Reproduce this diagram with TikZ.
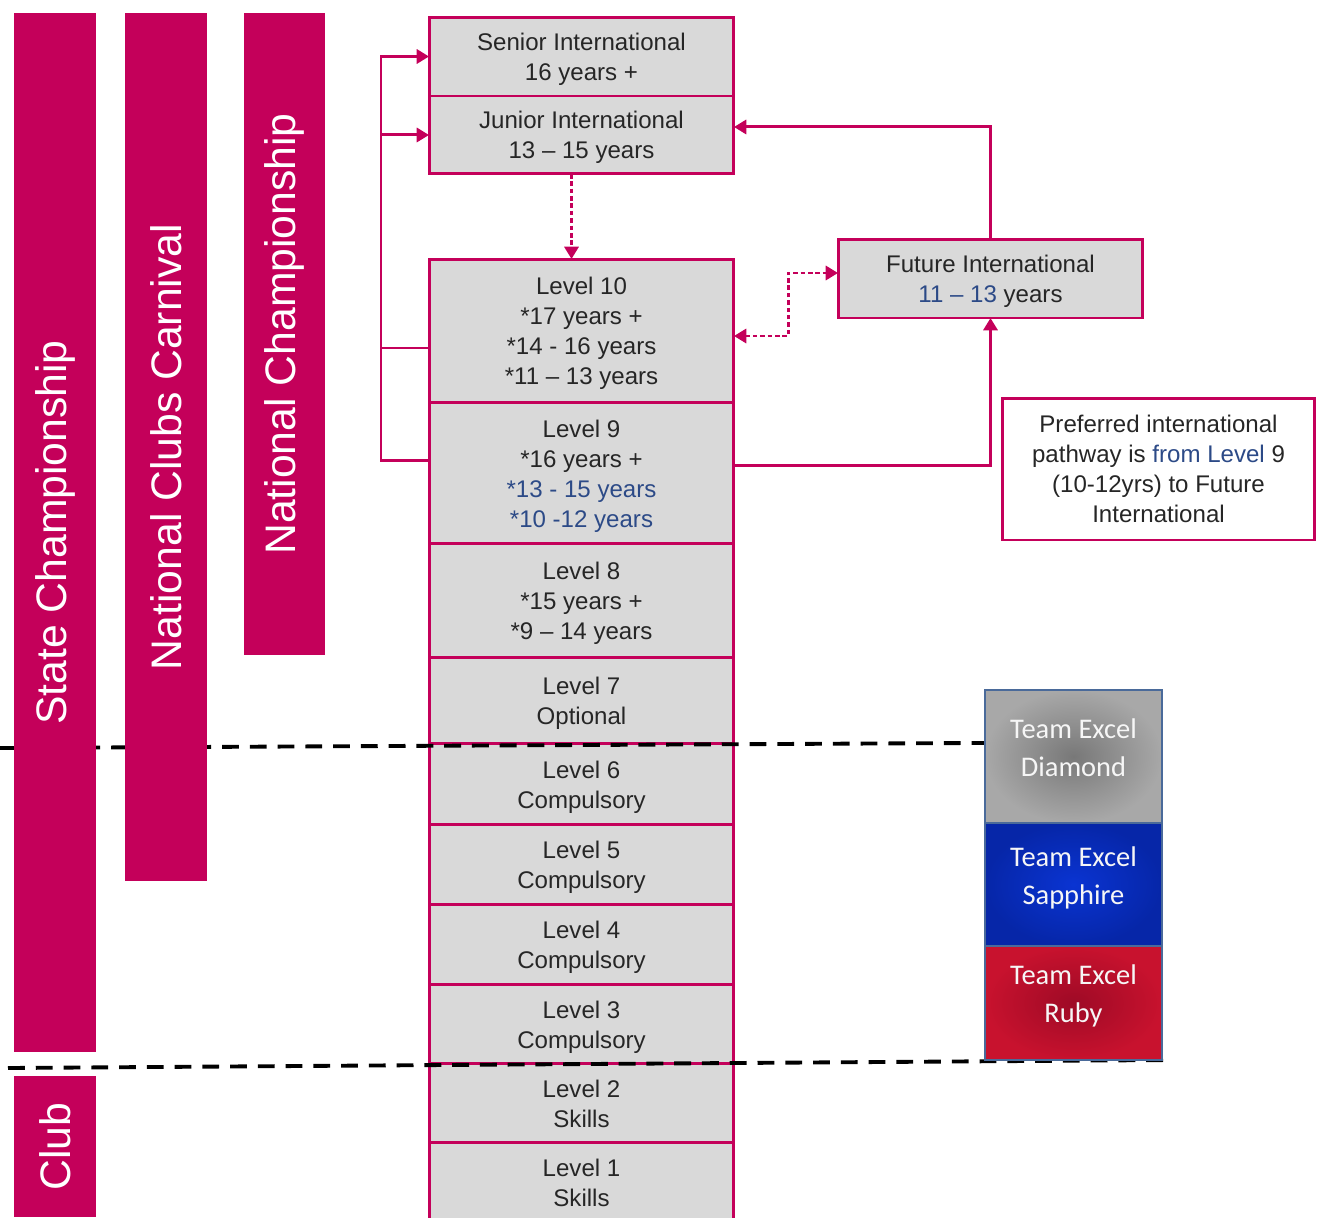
\documentclass[tikz,border=0pt]{standalone}
\usepackage{fontspec}
\setmainfont{Liberation Sans}
\newfontfamily\teamfont{Carlito}
\usepackage{xcolor}
\usetikzlibrary{shapes,arrows.meta,positioning}

\definecolor{pathpink}{HTML}{C4005A}
\definecolor{boxgray}{HTML}{D9D9D9}
\definecolor{agetext}{HTML}{2C4A87}
\definecolor{textgray}{HTML}{262626}
\definecolor{teamedge}{HTML}{4A6A9A}
\definecolor{diamondin}{HTML}{787878}
\definecolor{diamondout}{HTML}{A8A8A8}
\definecolor{sapphirein}{HTML}{0A34D2}
\definecolor{sapphireout}{HTML}{0626A8}
\definecolor{rubyin}{HTML}{9E0A26}
\definecolor{rubyout}{HTML}{C8122E}

\begin{document}
\begin{tikzpicture}[
    x=0.02cm, y=-0.02cm,
    >={Triangle[length=7pt, width=8pt]},
    lvlbox/.style={draw=pathpink, line width=1.7pt, fill=boxgray, text=textgray, minimum width=6.1cm, align=center, inner sep=0pt, outer sep=0pt, font=\fontsize{13.7}{17}\selectfont, text depth=-0.1cm},
    notebox/.style={lvlbox, fill=white, minimum width=6.26cm, minimum height=2.84cm},
    bar/.style={fill=pathpink, text=white, inner sep=0pt, outer sep=0pt, rotate=90, font=\fontsize{24.3}{28}\selectfont},
    team/.style={draw=teamedge, line width=0.8pt, text=white!93!gray, minimum width=3.54cm, align=center, inner sep=0pt, outer sep=0pt, font=\teamfont\fontsize{16.2}{21.5}\selectfont, execute at end node={\rule[-0.36cm]{0pt}{0.36cm}}},
    link/.style={draw=pathpink, line width=1.7pt},
    dots/.style={dash pattern=on 2.6pt off 1.6pt},
    dashes/.style={line width=2.2pt, dash pattern=on 9.6pt off 6.2pt},
]
\useasboundingbox (0,0) rectangle (1321,1217);

\node[lvlbox, minimum height=1.58cm] (sen) at (581.5,56.5) {Senior International\\16 years +};
\node[lvlbox, minimum height=1.56cm, below=0pt of sen] (jun) {Junior International\\13 -- 15 years};
\node[lvlbox, minimum height=2.88cm] (l10) at (581.5,331) {Level 10\\{}*17 years +\\{}*14 - 16 years\\{}*11 -- 13 years};
\node[lvlbox, minimum height=2.82cm, below=0pt of l10] (l9) {Level 9\\{}*16 years +\\\textcolor{agetext}{*13 - 15 years}\\\textcolor{agetext}{*10 -12 years}};
\node[lvlbox, minimum height=2.28cm, below=0pt of l9] (l8) {Level 8\\{}*15 years +\\{}*9 -- 14 years};
\node[lvlbox, minimum height=1.72cm, below=0pt of l8] (l7) {Level 7\\Optional};
\node[lvlbox, minimum height=1.62cm, below=0pt of l7] (l6) {Level 6\\Compulsory};
\node[lvlbox, minimum height=1.60cm, below=0pt of l6] (l5) {Level 5\\Compulsory};
\node[lvlbox, minimum height=1.60cm, below=0pt of l5] (l4) {Level 4\\Compulsory};
\node[lvlbox, minimum height=1.58cm, below=0pt of l4] (l3) {Level 3\\Compulsory};
\node[lvlbox, minimum height=1.58cm, below=0pt of l3] (l2) {Level 2\\Skills};
\node[lvlbox, minimum height=1.58cm, below=0pt of l2] (l1) {Level 1\\Skills};

\node[lvlbox, minimum height=1.58cm] (fut) at (990.5,278.5) {Future International\\\textcolor{agetext}{11 -- 13} years};
\node[notebox] (pref) at (1158.5,469) {Preferred international\\pathway is \textcolor{agetext}{from Level} 9\\(10-12yrs) to Future\\International};

\coordinate (brk) at (381,0);
\coordinate (dk) at (788,0);
\coordinate (l10w) at ([yshift=-0.34cm]l10.west);
\coordinate (l9w) at ([yshift=0.25cm]l9.west);
\coordinate (l9e) at ([yshift=0.15cm]l9.east);
\coordinate (l10e) at ([yshift=-0.1cm]l10.east);
\coordinate (june) at ([yshift=0.16cm]jun.east);
\coordinate (futw) at ([yshift=0.11cm]fut.west);

\draw[link] (l10w) -- (l10w -| brk);
\draw[link, ->] (l9w) -| (brk |- sen.west) -- (sen.west);
\draw[link, ->] (brk |- jun.west) -- (jun.west);
\draw[link, dots, ->] ([xshift=-0.2cm]jun.south) -- ([xshift=-0.2cm]l10.north);
\draw[link, ->] (l9e) -| (fut.south);
\draw[link, ->] (fut.north) |- (june);
\draw[link, dots, <->] (l10e) -| (dk |- futw) -- (futw);

\coordinate (cut1a) at (0,748);
\coordinate (cut1b) at (1165,742);
\coordinate (cut2a) at (8,1068);
\coordinate (cut2b) at (1170,1060);
\draw[dashes] (cut1a) -- (cut1b);
\draw[dashes] (cut2a) -- (cut2b);

\node[bar, minimum width=20.78cm, minimum height=1.64cm] (state) at (55,532.5) {State Championship};
\node[bar, minimum width=17.36cm, minimum height=1.64cm] (carn) at (166,447) {National Clubs Carnival};
\node[bar, minimum width=12.84cm, minimum height=1.62cm] (natc) at (284.5,334) {National Championship};
\node[bar, minimum width=2.82cm, minimum height=1.64cm] (club) at (55,1146.5) {Club};

\node[team, minimum height=2.66cm, inner color=diamondin, outer color=diamondout] (dia) at (1073.5,756.5) {Team Excel\\Diamond};
\node[team, minimum height=2.46cm, inner color=sapphirein, outer color=sapphireout, below=0pt of dia] (sap) {Team Excel\\Sapphire};
\node[team, minimum height=2.28cm, inner color=rubyin, outer color=rubyout, below=0pt of sap] (ruby) {Team Excel\\Ruby};

\end{tikzpicture}
\end{document}
